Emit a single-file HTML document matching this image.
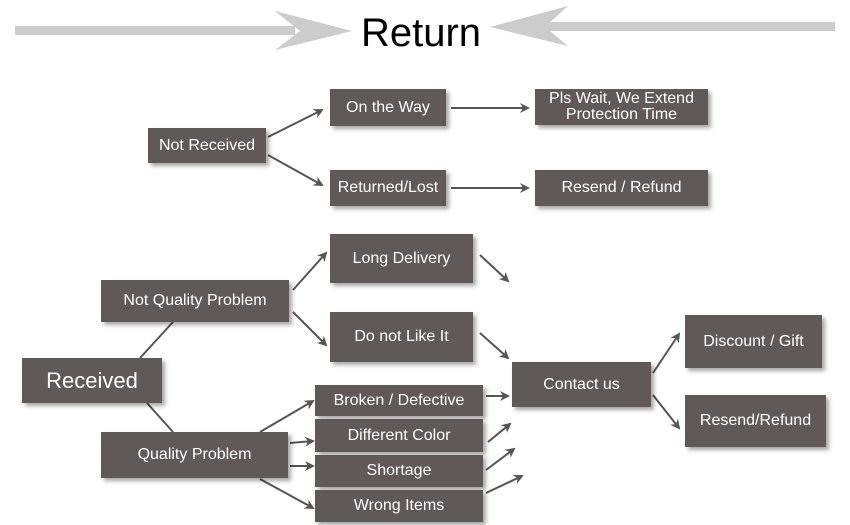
<!DOCTYPE html>
<html><head><style>
body{margin:0;background:#fff;width:850px;height:525px;overflow:hidden;position:relative;font-family:"Liberation Sans",sans-serif}
.b{position:absolute;background:#5f5a58;color:#fff;display:flex;align-items:center;justify-content:center;text-align:center;font-size:16px;box-shadow:3px 3px 4px rgba(0,0,0,0.35);line-height:16px}
svg{position:absolute;left:0;top:0}
</style></head><body>
<svg width="850" height="525">
<defs><marker id="a" markerWidth="10" markerHeight="10" refX="8" refY="5" orient="auto" markerUnits="userSpaceOnUse"><path d="M0,0 L10,5 L0,10 L3,5 Z" fill="#555"/></marker></defs>
<rect x="15" y="26" width="280" height="9" fill="#ccc"/>
<path d="M275,11 L352,31 L275,50 L300,31 Z" fill="#ccc"/>
<rect x="545" y="22" width="290" height="9" fill="#ccc"/>
<path d="M568,6 L490,27 L568,46 L545,27 Z" fill="#ccc"/>
<text x="421" y="46" font-size="40" text-anchor="middle" font-family="Liberation Sans">Return</text>
<g stroke="#555" stroke-width="2" fill="none" marker-end="url(#a)">
<line x1="268" y1="137" x2="322" y2="110"/>
<line x1="268" y1="155" x2="322" y2="185"/>
<line x1="451" y1="108" x2="528" y2="108"/>
<line x1="451" y1="188" x2="528" y2="188"/>
<line x1="293" y1="290" x2="326" y2="253"/>
<line x1="293" y1="312" x2="326" y2="345"/>
<line x1="480" y1="255" x2="508" y2="281"/>
<line x1="480" y1="333" x2="508" y2="358"/>
<line x1="486" y1="396" x2="508" y2="396"/>
<line x1="488" y1="442" x2="510" y2="424"/>
<line x1="486" y1="470" x2="514" y2="449"/>
<line x1="486" y1="493" x2="522" y2="476"/>
<line x1="260" y1="432" x2="313" y2="401"/>
<line x1="290" y1="443" x2="313" y2="441"/>
<line x1="290" y1="466" x2="313" y2="466"/>
<line x1="260" y1="479" x2="313" y2="508"/>
<line x1="653" y1="373" x2="679" y2="334"/>
<line x1="653" y1="395" x2="679" y2="428"/>
</g>
<g stroke="#555" stroke-width="2">
<line x1="140" y1="358" x2="173" y2="322"/>
<line x1="147" y1="403" x2="173" y2="432"/>
</g>
</svg>
<div class="b" style="left:148px;top:128px;width:118px;height:35px">Not Received</div>
<div class="b" style="left:330px;top:89px;width:116px;height:37px">On the Way</div>
<div class="b" style="left:535px;top:89px;width:173px;height:36px">Pls Wait, We Extend<br>Protection Time</div>
<div class="b" style="left:330px;top:170px;width:116px;height:36px">Returned/Lost</div>
<div class="b" style="left:535px;top:170px;width:173px;height:36px">Resend / Refund</div>
<div class="b" style="left:330px;top:234px;width:143px;height:49px">Long Delivery</div>
<div class="b" style="left:101px;top:280px;width:188px;height:42px">Not Quality Problem</div>
<div class="b" style="left:330px;top:312px;width:143px;height:50px">Do not Like It</div>
<div class="b" style="left:22px;top:358px;width:140px;height:45px;font-size:22px">Received</div>
<div class="b" style="left:512px;top:362px;width:139px;height:45px">Contact us</div>
<div class="b" style="left:685px;top:315px;width:137px;height:53px">Discount / Gift</div>
<div class="b" style="left:685px;top:395px;width:141px;height:52px">Resend/Refund</div>
<div class="b" style="left:315px;top:385px;width:168px;height:31px">Broken / Defective</div>
<div class="b" style="left:315px;top:419px;width:168px;height:33px">Different Color</div>
<div class="b" style="left:315px;top:455px;width:168px;height:32px">Shortage</div>
<div class="b" style="left:315px;top:490px;width:168px;height:32px">Wrong Items</div>
<div class="b" style="left:101px;top:432px;width:187px;height:46px">Quality Problem</div>
</body></html>
